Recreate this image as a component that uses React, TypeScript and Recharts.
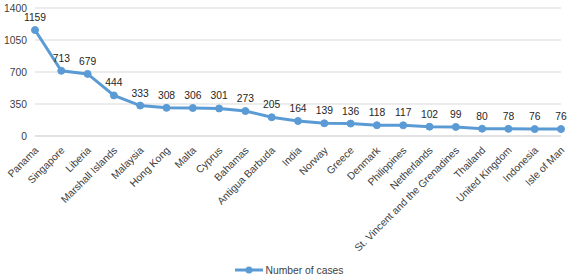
import { LineChart, Line, XAxis, YAxis, CartesianGrid, Legend, LabelList } from "recharts";

const countries = [
  "Panama", "Singapore", "Liberia", "Marshall Islands", "Malaysia", "Hong Kong", "Malta",
  "Cyprus", "Bahamas", "Antigua Barbuda", "India", "Norway", "Greece", "Denmark",
  "Philippines", "Netherlands", "St. Vincent and the Grenadines", "Thailand",
  "United Kingdom", "Indonesia", "Isle of Man",
];
const cases = [1159, 713, 679, 444, 333, 308, 306, 301, 273, 205, 164, 139, 136, 118, 117, 102, 99, 80, 78, 76, 76];
const yTicks = [0, 350, 700, 1050, 1400];

const BLUE = "#5b9bd5";
const FONT = "'Liberation Sans', Arial, sans-serif";

const data = countries.map((name, i) => ({ name, cases: cases[i] }));

const RotatedTick = ({ x, y, payload }: any) => (
  <text
    x={x + 4}
    y={y + 7}
    transform={`rotate(-45, ${x + 4}, ${y + 7})`}
    textAnchor="end"
    fontSize={10.3}
    fontFamily={FONT}
    fill="#404040"
  >
    {payload.value}
  </text>
);

const LegendContent = () => (
  <div style={{ display: "flex", justifyContent: "center", alignItems: "center", fontFamily: FONT, fontSize: 10.3, color: "#404040", height: 20, paddingLeft: 16 }}>
    <svg width={30} height={10} style={{ marginRight: 2 }}>
      <line x1={1} y1={5} x2={29} y2={5} stroke={BLUE} strokeWidth={3} />
      <circle cx={15} cy={5} r={3.5} fill={BLUE} />
    </svg>
    <span>Number of cases</span>
  </div>
);

export default function App() {
  return (
    <div>
      <style>{`body{margin:0}`}</style>
      <LineChart width={579} height={280} data={data} margin={{ top: 8, right: 18, left: 0, bottom: 0 }}>
        <CartesianGrid vertical={false} stroke="#d9d9d9" />
        <XAxis
          dataKey="name"
          interval={0}
          tick={<RotatedTick />}
          tickLine={false}
          axisLine={{ stroke: "#d9d9d9" }}
          height={124}
        />
        <YAxis
          domain={[0, 1400]}
          ticks={yTicks}
          width={35}
          tickLine={false}
          axisLine={false}
          tick={{ fontSize: 10.3, fontFamily: FONT, fill: "#404040" }}
        />
        <Legend verticalAlign="bottom" height={20} content={<LegendContent />} />
        <Line
          dataKey="cases"
          stroke={BLUE}
          strokeWidth={3}
          dot={{ r: 3.5, fill: BLUE, stroke: BLUE, strokeWidth: 1 }}
          isAnimationActive={false}
        >
          <LabelList dataKey="cases" position="top" offset={9} fontSize={10.3} fontFamily={FONT} fill="#262626" />
        </Line>
      </LineChart>
    </div>
  );
}
